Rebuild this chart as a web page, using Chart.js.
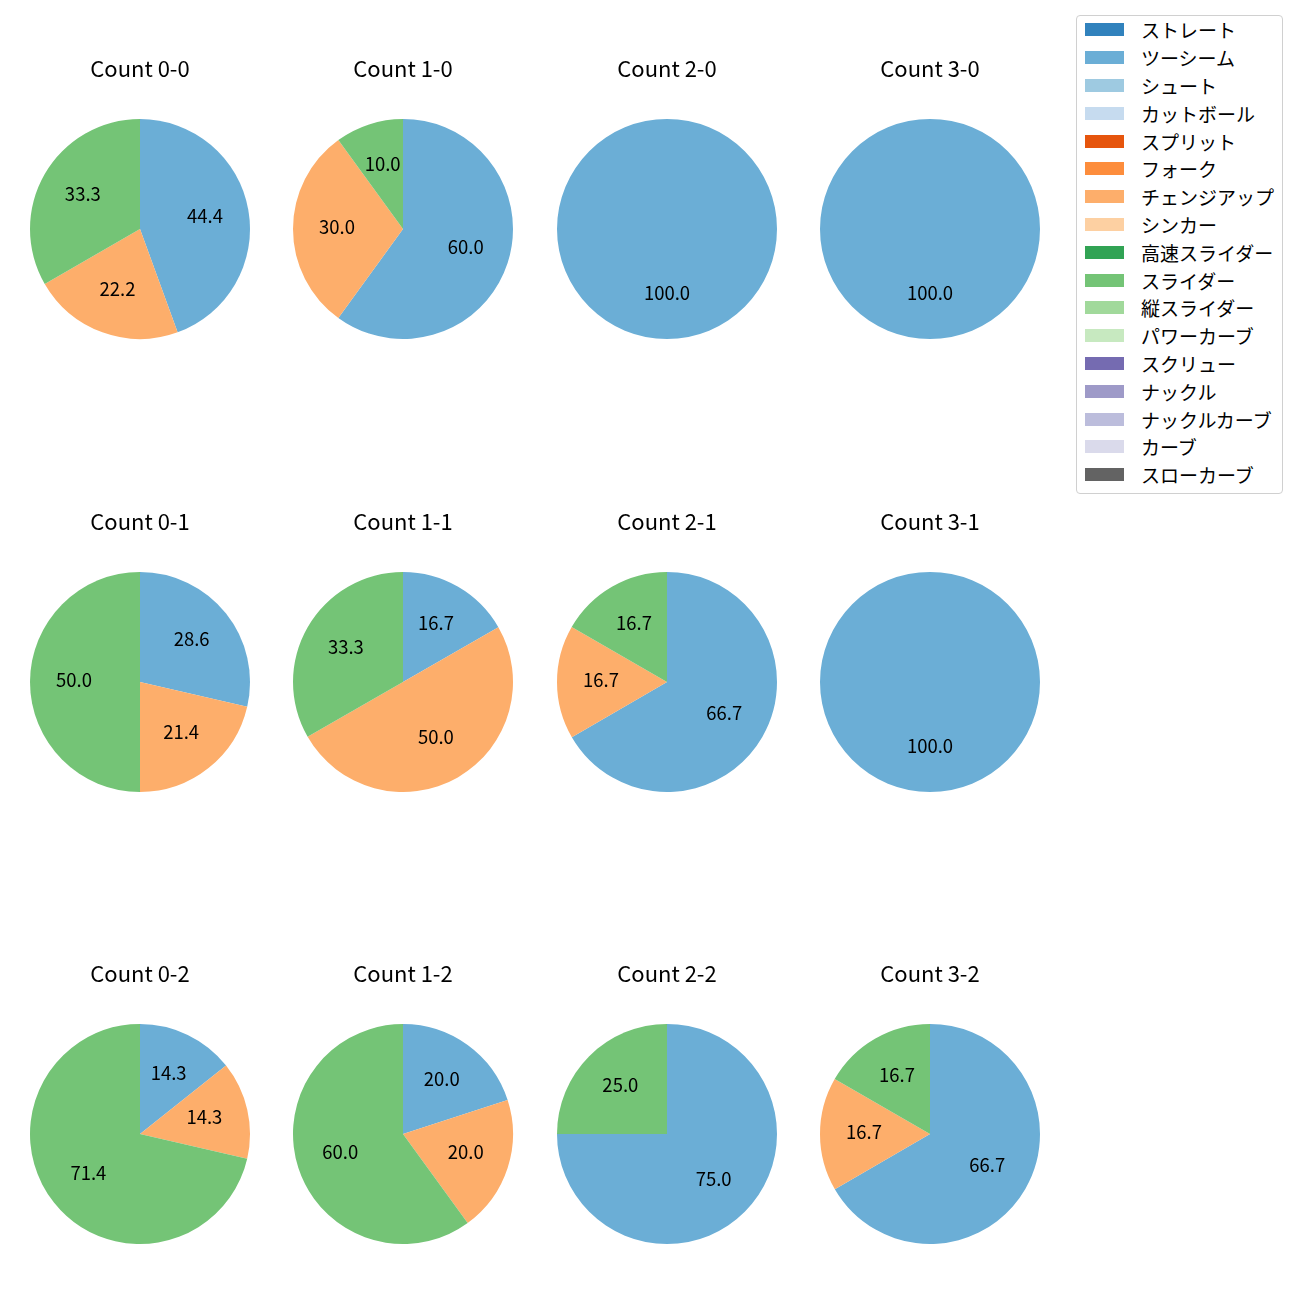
<!DOCTYPE html>
<html>
<head>
<meta charset="utf-8">
<script src="https://cdn.jsdelivr.net/npm/chart.js@4/dist/chart.umd.min.js"></script>
<style>
  body { margin: 0; background: #fff; }
  #wrap { position: relative; width: 1300px; height: 1300px; }
  canvas { position: absolute; }
  #legend {
    position: absolute; left: 1076px; top: 15px; width: 205px;
    border: 1px solid #d0d0d0; border-radius: 4px; padding: 0 0 4px 0;
    font-family: "Noto Sans CJK JP", sans-serif; font-size: 19px; color: #000;
  }
  .row { height: 27.8px; display: flex; align-items: center; }
  .sw { width: 39px; height: 13px; margin: 0 17px 0 8px; }
</style>
</head>
<body>
<div id="wrap">
  <div id="legend"></div>
</div>
<script>
// Legend: all pitch types and their colours (tab20c)
const pitchTypes = ['ストレート', 'ツーシーム', 'シュート', 'カットボール', 'スプリット', 'フォーク',
    'チェンジアップ', 'シンカー', '高速スライダー', 'スライダー', '縦スライダー', 'パワーカーブ',
    'スクリュー', 'ナックル', 'ナックルカーブ', 'カーブ', 'スローカーブ'];
const pitchColors = ['#3182bd', '#6baed6', '#9ecae1', '#c6dbef', '#e6550d', '#fd8d3c',
    '#fdae6b', '#fdd0a2', '#31a354', '#74c476', '#a1d99b', '#c7e9c0',
    '#756bb1', '#9e9ac8', '#bcbddc', '#dadaeb', '#636363'];

// Counts (balls-strikes), in grid order
const counts = ['0-0', '1-0', '2-0', '3-0',
                '0-1', '1-1', '2-1', '3-1',
                '0-2', '1-2', '2-2', '3-2'];

// Percentages per pitch type for each count
const twoSeam   = [44.4, 60.0, 100, 100, 28.6, 16.7, 66.7, 100, 14.3, 20.0, 75.0, 66.7];
const changeUp  = [22.2, 30.0, 0, 0, 21.4, 50.0, 16.7, 0, 14.3, 20.0, 0, 16.7];
const slider    = [33.3, 10.0, 0, 0, 50.0, 33.3, 16.7, 0, 71.4, 60.0, 25.0, 16.7];

const shownTypes = ['ツーシーム', 'チェンジアップ', 'スライダー'];
const shownColors = shownTypes.map(t => pitchColors[pitchTypes.indexOf(t)]);

// Build legend
const legend = document.getElementById('legend');
pitchTypes.forEach((name, i) => {
    const row = document.createElement('div');
    row.className = 'row';
    row.innerHTML = '<div class="sw" style="background:' + pitchColors[i] + '"></div><span>' + name + '</span>';
    legend.appendChild(row);
});

// Percent labels drawn at 0.6 of the radius, like autopct
const pctLabels = {
    id: 'pctLabels',
    afterDatasetsDraw(chart) {
        const ctx = chart.ctx;
        const ds = chart.data.datasets[0];
        const meta = chart.getDatasetMeta(0);
        ctx.save();
        ctx.font = '18.5px "Noto Sans CJK JP", sans-serif';
        ctx.fillStyle = '#000';
        ctx.textAlign = 'center';
        ctx.textBaseline = 'middle';
        meta.data.forEach((arc, i) => {
            const v = ds.data[i];
            if (!v) return;
            const mid = (arc.startAngle + arc.endAngle) / 2;
            const r = arc.outerRadius * 0.6;
            // small nudge up: the font sits a bit low with 'middle'
            ctx.fillText(v.toFixed(1), arc.x + Math.cos(mid) * r, arc.y + Math.sin(mid) * r - 2);
        });
        ctx.restore();
    }
};

const colX = [140, 403, 667, 930];
const rowY = [229, 682, 1134];
const wrap = document.getElementById('wrap');

counts.forEach((c, i) => {
    const cx = colX[i % 4];
    const cy = rowY[Math.floor(i / 4)];
    const cv = document.createElement('canvas');
    cv.width = 260;
    cv.height = 320;
    cv.style.left = (cx - 130) + 'px';
    cv.style.top = (cy - 180) + 'px';
    wrap.appendChild(cv);

    new Chart(cv.getContext('2d'), {
        type: 'pie',
        data: {
            labels: shownTypes,
            datasets: [{
                data: [twoSeam[i], changeUp[i], slider[i]],
                backgroundColor: shownColors,
                borderWidth: 0
            }]
        },
        options: {
            responsive: false,
            animation: false,
            radius: 110,
            events: [],
            plugins: {
                legend: { display: false },
                tooltip: { enabled: false },
                title: {
                    display: true,
                    text: 'Count ' + c,
                    color: '#000',
                    font: { family: '"Noto Sans CJK JP", sans-serif', size: 22, weight: 'normal' },
                    padding: { top: 6.8, bottom: 6.8 }
                }
            }
        },
        plugins: [pctLabels]
    });
});
</script>
</body>
</html>
